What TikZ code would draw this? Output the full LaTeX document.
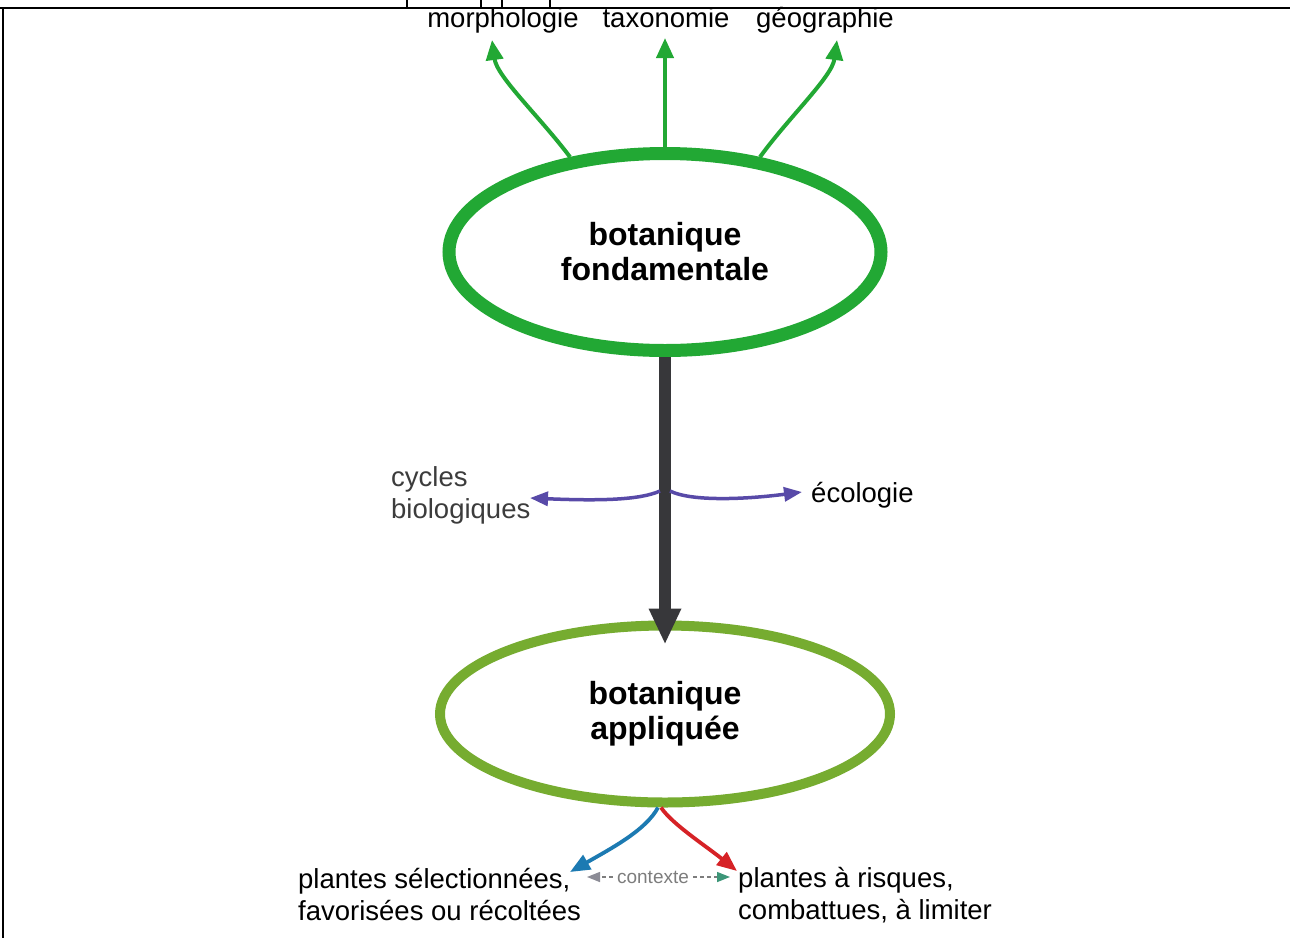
\documentclass[tikz,border=0pt]{standalone}
\usepackage{fontspec}
\setmainfont{Liberation Sans}
\usetikzlibrary{arrows.meta,shapes.geometric}
\definecolor{fgreen}{RGB}{34,168,52}
\definecolor{agreen}{RGB}{118,172,48}
\definecolor{shaftgray}{RGB}{55,55,58}
\definecolor{purp}{RGB}{88,74,168}
\definecolor{bblue}{RGB}{28,122,178}
\definecolor{rred}{RGB}{214,34,38}
\definecolor{ctxgray}{RGB}{125,125,125}
\definecolor{ctxteal}{RGB}{60,150,120}
\definecolor{ctxhead}{RGB}{140,140,150}
\definecolor{labgray}{RGB}{60,60,60}
\begin{document}
\begin{tikzpicture}[x=1pt,y=-1pt,
  lbl/.style={font=\fontsize{27.5}{31.5}\selectfont, inner sep=0pt, text=black},
  bigell/.style={ellipse, fill=white, font=\fontsize{32}{35}\selectfont\bfseries, align=center, text=black},
  garrow/.style={draw=fgreen, line width=4pt, -{Triangle[length=20pt,width=17pt]}},
  bigarrow/.style={draw=shaftgray, line width=12pt, -{Triangle[length=36pt,width=30pt]}},
  parrow/.style={draw=purp, line width=3.5pt, -{Triangle[length=18pt,width=14pt]}},
  barrow/.style={line width=3.8pt, -{Triangle[length=20pt,width=16pt]}},
  ctxline/.style={draw=ctxgray, line width=1.4pt, dash pattern=on 4pt off 3pt},
  ctxlbl/.style={font=\fontsize{19}{22}\selectfont, text=ctxgray, inner sep=4pt, fill=white},
  framestroke/.style={line width=2.8pt, draw=black}
]
\useasboundingbox (0,0) rectangle (1290,938);
\fill[white] (0,0) rectangle (1290,938);
% frame
\draw[framestroke] (0,8) -- (1290,8);
\draw[framestroke] (3,8) -- (3,938);
\foreach \x in {407,481,502,550} \draw[framestroke] (\x,0) -- (\x,7);

% ellipses
\node[bigell, draw=fgreen, line width=13pt, minimum width=432pt, minimum height=197pt] (f) at (665,252) {botanique\\fondamentale};
\node[bigell, draw=agreen, line width=10pt, minimum width=450pt, minimum height=177pt] (a) at (665,714) {botanique\\appliquée};

% labels
\node[lbl, anchor=base] (morph) at (503,27) {morphologie};
\node[lbl, anchor=base] (taxo) at (666,27) {taxonomie};
\node[lbl, anchor=base] (geo) at (825,27) {géographie};
\node[lbl, anchor=base west, align=left, text=labgray] (cyc) at (391,518) {cycles\\biologiques};
\node[lbl, anchor=base west] (eco) at (811,502) {écologie};
\node[lbl, anchor=base west, align=left] (sel) at (298,920) {plantes sélectionnées,\\favorisées ou récoltées};
\node[lbl, anchor=base west, align=left] (ris) at (738,919) {plantes à risques,\\combattues, à limiter};
\node[ctxlbl] (ctx) at (653,877) {contexte};

% arrow end points
\coordinate (tm) at (492,40);
\coordinate (tt) at (665,38);
\coordinate (tg) at (837,40);
\coordinate (pml) at (660,491);
\coordinate (pmr) at (670,491);
\coordinate (pl) at (530,498);
\coordinate (pr) at (802,492);
\coordinate (bl) at (570,872);
\coordinate (br) at (737,871);
\coordinate (cl) at (587,877);
\coordinate (cr) at (730,877);

% top green arrows
\draw[garrow] (f.135) .. controls (540,117) and (497,77) .. (tm);
\draw[garrow] (f.north) -- (tt);
\draw[garrow] (f.45) .. controls (789,117) and (832,77) .. (tg);

% main arrow
\draw[bigarrow] (f.south) -- ([yshift=-24pt]a.north);

% purple arrows
\draw[parrow] (pml) .. controls (640,500) and (600,501) .. (pl);
\draw[parrow] (pmr) .. controls (690,501) and (740,500) .. (pr);

% bottom arrows
\draw[barrow, draw=bblue] ([xshift=-7pt]a.south) .. controls (646,830) and (612,848) .. (bl);
\draw[barrow, draw=rred] ([xshift=-4pt]a.south) .. controls (672,824) and (706,846) .. (br);

% contexte
\draw[ctxline, -{Triangle[length=13pt,width=10pt,color=ctxhead]}] (ctx.west) -- (cl);
\draw[ctxline, -{Triangle[length=13pt,width=10pt,color=ctxteal]}] (ctx.east) -- (cr);
\end{tikzpicture}
\end{document}
